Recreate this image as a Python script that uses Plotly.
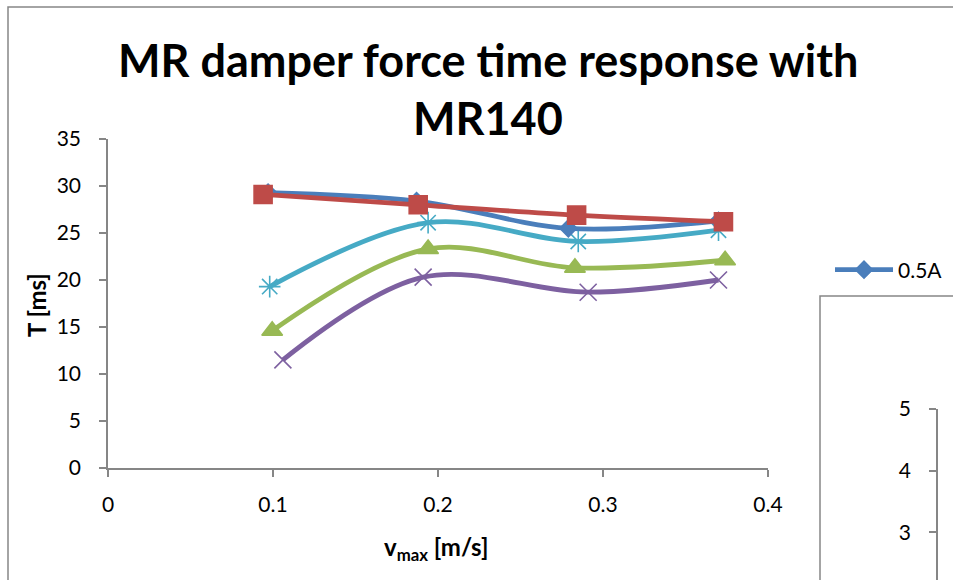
import plotly.graph_objects as go

W, H = 953, 580

# Peak velocity [m/s] and response time [ms] for each coil current
v_05 = [0.097, 0.187, 0.279, 0.370]
t_05 = [29.3, 28.4, 25.5, 26.3]

v_s2 = [0.094, 0.188, 0.284, 0.373]
t_s2 = [29.1, 28.0, 26.9, 26.2]

v_s3 = [0.098, 0.194, 0.285, 0.370]
t_s3 = [19.3, 26.1, 24.1, 25.3]

v_s4 = [0.0995, 0.194, 0.283, 0.374]
t_s4 = [14.6, 23.3, 21.3, 22.1]

v_s5 = [0.106, 0.191, 0.291, 0.370]
t_s5 = [11.5, 20.3, 18.7, 20.0]

x_ticks = [0, 0.1, 0.2, 0.3, 0.4]
y_ticks = [0, 5, 10, 15, 20, 25, 30, 35]
y2_ticks = [3, 4, 5]

FONT = "Lato"
AXIS_GREY = "#868686"
TICK_SIZE = 21
LABEL_SIZE = 24


def px_x(p):
    return p / W


def px_y(p):
    return 1 - p / H


series = [
    ("0.5A", v_05, t_05, "#4A7EBB", "diamond", 13, True),
    ("I2", v_s2, t_s2, "#BE4B48", "square", 18, False),
    ("I3", v_s3, t_s3, "#46AAC5", "asterisk-open", 18, False),
    ("I4", v_s4, t_s4, "#98B954", "triangle-up", 18, False),
    ("I5", v_s5, t_s5, "#7D60A0", "x-thin-open", 17, False),
]

fig = go.Figure()

# draw order: lower curves first, the top pair last
for name, xs, ys, col, sym, size, show in [series[4], series[3], series[2], series[0], series[1]]:
    fig.add_trace(go.Scatter(
        x=xs, y=ys, name=name, mode="lines+markers",
        line=dict(color=col, width=4.8, shape="spline", smoothing=1.0),
        marker=dict(symbol=sym, size=size, color=col,
                    line=dict(color=col, width=1.6)),
        showlegend=show,
    ))

# empty trace so the partly visible neighbouring chart gets its axes
fig.add_trace(go.Scatter(x=[], y=[], xaxis="x2", yaxis="y2", showlegend=False))

axis_common = dict(
    showgrid=False, zeroline=False, automargin=False,
    showline=True, linecolor=AXIS_GREY, linewidth=1.5,
    ticks="outside", ticklen=7, tickcolor=AXIS_GREY, tickwidth=1.5,
    tickfont=dict(family=FONT, size=TICK_SIZE, color="black"),
)

fig.update_layout(
    width=W, height=H,
    margin=dict(l=0, r=0, t=0, b=0, autoexpand=False),
    paper_bgcolor="white", plot_bgcolor="white",
    font=dict(family=FONT, size=TICK_SIZE, color="black"),
    xaxis=dict(
        domain=[px_x(108), px_x(768)], range=[0, 0.4],
        tickvals=x_ticks, ticktext=[f"{v:g}" for v in x_ticks],
        ticklabelstandoff=10, anchor="y", **axis_common,
    ),
    yaxis=dict(
        domain=[px_y(468), px_y(139)], range=[0, 35],
        tickvals=y_ticks, ticklabelstandoff=14, anchor="x", **axis_common,
    ),
    xaxis2=dict(
        domain=[px_x(938), 1.0], range=[0, 1], visible=False, anchor="y2",
        automargin=False,
    ),
    yaxis2=dict(
        domain=[0, px_y(409)], range=[5 - (H - 409) / 61.7, 5],
        tickvals=y2_ticks, ticklabelstandoff=14,
        anchor="x2", side="left", **axis_common,
    ),
    legend=dict(
        x=px_x(830), y=px_y(270), xanchor="left", yanchor="middle",
        bgcolor="rgba(0,0,0,0)", font=dict(family=FONT, size=TICK_SIZE),
        itemwidth=58,
    ),
    shapes=[
        # outer chart frame
        dict(type="rect", xref="paper", yref="paper",
             x0=px_x(8), x1=1.05, y0=-0.05, y1=px_y(7),
             line=dict(color=AXIS_GREY, width=1.5), layer="below"),
        # frame of the neighbouring chart
        dict(type="rect", xref="paper", yref="paper",
             x0=px_x(820), x1=1.05, y0=-0.05, y1=px_y(296),
             line=dict(color=AXIS_GREY, width=1.5), fillcolor="white",
             layer="below"),
    ],
    annotations=[
        dict(text="<b>MR damper force time response with</b>",
             xref="paper", yref="paper", x=px_x(488), y=px_y(60),
             xanchor="center", yanchor="middle", showarrow=False,
             font=dict(family=FONT, size=45)),
        dict(text="<b>MR140</b>",
             xref="paper", yref="paper", x=px_x(488), y=px_y(118),
             xanchor="center", yanchor="middle", showarrow=False,
             font=dict(family=FONT, size=45)),
        dict(text="<b>T [ms]</b>", textangle=-90,
             xref="paper", yref="paper", x=px_x(36), y=px_y(305),
             xanchor="center", yanchor="middle", showarrow=False,
             font=dict(family=FONT, size=LABEL_SIZE)),
        dict(text="<b>v<sub>max</sub> [m/s]</b>",
             xref="paper", yref="paper", x=px_x(436), y=px_y(548),
             xanchor="center", yanchor="middle", showarrow=False,
             font=dict(family=FONT, size=LABEL_SIZE)),
    ],
)

fig.write_html("out.html")
